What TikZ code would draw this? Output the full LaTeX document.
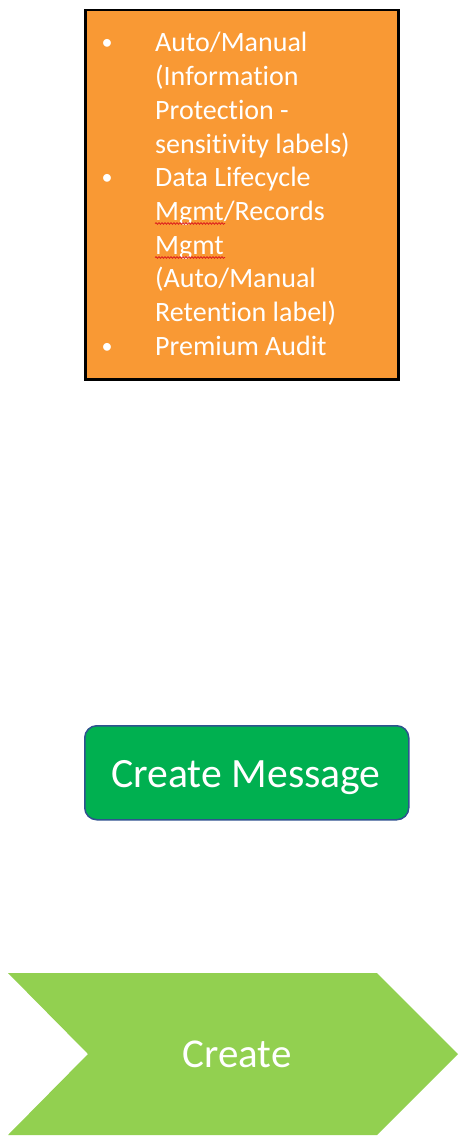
\documentclass[tikz,border=0pt]{standalone}
\usepackage{fontspec}
\setmainfont[Ligatures=NoCommon]{Carlito}
\usetikzlibrary{decorations.pathmorphing}
\definecolor{orangefill}{RGB}{249,153,52}
\definecolor{btngreen}{RGB}{0,176,80}
\definecolor{btnborder}{RGB}{47,82,143}
\definecolor{chevgreen}{RGB}{146,208,80}
\definecolor{spellred}{RGB}{220,30,30}
\tikzset{
  x=1pt, y=-1pt,
  boxtext/.style={text=white, inner sep=0pt, font=\fontsize{28}{33.7}\selectfont},
  bulletmark/.style={text=white, inner sep=0pt, font=\fontsize{22}{30}\selectfont, anchor=base},
  spell/.style={draw=spellred, line width=0.8pt, decorate, decoration={snake, amplitude=0.8pt, segment length=3pt}}
}
\begin{document}
\begin{tikzpicture}
\useasboundingbox (0,0) rectangle (467,1139);
% orange box
\node[draw=black, line width=2.5pt, fill=orangefill, minimum width=313pt, minimum height=369pt, anchor=north west, inner sep=0pt] (box) at (84,9) {};
\node[bulletmark] (b1) at (107,50) {•};
\node[bulletmark] (b2) at (107,184.8) {•};
\node[bulletmark] (b3) at (107,353.2) {•};
\node[boxtext, anchor=base west, align=left] (txt) at (155,355.2) {Auto/Manual\\(Information\\Protection -\\sensitivity labels)\\Data Lifecycle\\Mgmt/Records\\Mgmt\\(Auto/Manual\\Retention label)\\Premium Audit};
\coordinate (s1a) at (155,223.5);
\coordinate (s1b) at (225,223.5);
\coordinate (s2a) at (155,257.5);
\coordinate (s2b) at (225,257.5);
\draw[spell] (s1a) -- (s1b);
\draw[spell] (s2a) -- (s2b);
% green button
\node[draw=btnborder, line width=1.5pt, fill=btngreen, rounded corners=12pt, minimum width=324pt, minimum height=94pt, anchor=north west, inner sep=0pt] (btn) at (84,725) {};
\node[text=white, inner sep=0pt, anchor=base, font=\fontsize{41.7}{50}\selectfont] (btntxt) at (246,787) {Create Message};
% chevron
\fill[chevgreen] (8,973) -- (377,973) -- (458,1054) -- (377,1135) -- (8,1135) -- (88,1054) -- cycle;
\node[text=white, inner sep=0pt, anchor=base, font=\fontsize{41}{50}\selectfont] (chev) at (237,1067) {Create};
\end{tikzpicture}
\end{document}
